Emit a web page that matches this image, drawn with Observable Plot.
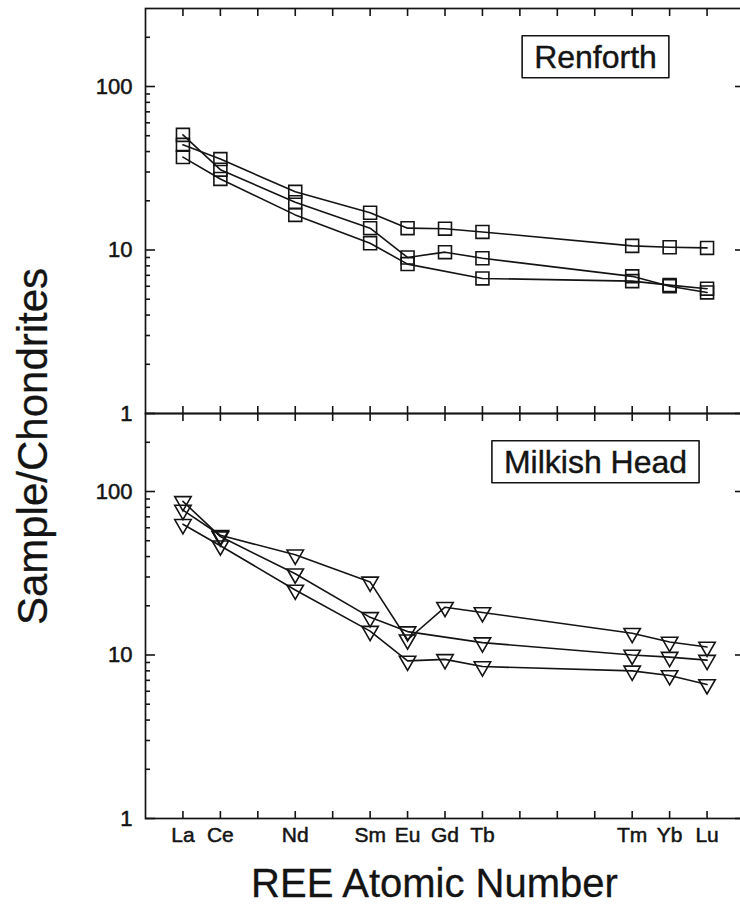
<!DOCTYPE html>
<html><head><meta charset="utf-8">
<script src="https://cdn.jsdelivr.net/npm/d3@7"></script>
<script src="https://cdn.jsdelivr.net/npm/@observablehq/plot@0.6"></script>
<style>
html,body{margin:0;padding:0;background:#fff;overflow:hidden;}
#chart{width:740px;height:911px;overflow:hidden;}
</style></head><body><div id="chart"></div>
<script>
// REE elements and atomic numbers
const elements = ["La","Ce","Nd","Sm","Eu","Gd","Tb","Tm","Yb","Lu"];
const atomicNumbers = [57,58,60,62,63,64,65,69,70,71];
const xTickNumbers = [57,58,59,60,61,62,63,64,65,66,67,68,69,70,71];
const sites = ["Renforth","Milkish Head"];

// Renforth (squares)
const renforthA = [44, 36, 22.7, 16.9, 13.6, 13.5, 12.9, 10.6, 10.4, 10.3];
const renforthB = [50.6, 31, 19.6, 13.6, 9.0, 9.7, 8.9, 6.9, 6.0, 5.5];
const renforthC = [37, 27.2, 16.4, 11.0, 8.2, null, 6.7, 6.45, 6.1, 5.8];

// Milkish Head (inverted triangles)
const milkish1 = [77, 54, 41, 28, 12.4, 19.6, 18.2, 13.6, 12.0, 11.2];
const milkish2 = [87, 53, 31.4, 17.0, 13.9, null, 11.9, 10.0, 9.7, 9.3];
const milkish3 = [63, 46.6, 25, 14.0, 9.2, 9.4, 8.5, 8.0, 7.5, 6.6];

const yMajorTicks = [1, 10, 100];
const yMinorTicks = [2,3,4,5,6,7,8,9,20,30,40,50,60,70,80,90,200];

function rows(site, series, values) {
  return values.map((v, i) => ({site, series, an: atomicNumbers[i], el: elements[i], value: v}))
               .filter(d => d.value != null);
}
const renforthRows = [...rows("Renforth","A",renforthA), ...rows("Renforth","B",renforthB), ...rows("Renforth","C",renforthC)];
const milkishRows = [...rows("Milkish Head","1",milkish1), ...rows("Milkish Head","2",milkish2), ...rows("Milkish Head","3",milkish3)];
const allRows = [...renforthRows, ...milkishRows];

const squareSym = {draw(ctx, size){ const s = Math.sqrt(size)/2; ctx.moveTo(-s,-s); ctx.lineTo(s,-s); ctx.lineTo(s,s); ctx.lineTo(-s,s); ctx.closePath(); }};
const downTri = {draw(ctx, size){ const a = Math.sqrt(size/(3*Math.sqrt(3))); ctx.moveTo(0, 2*a); ctx.lineTo(-Math.sqrt(3)*a, -a); ctx.lineTo(Math.sqrt(3)*a, -a); ctx.closePath(); }};

const ink = "#141414";
const tickAxis = (Axis, anchor, ticks, size) => Axis({anchor, ticks, tickSize: size, tickFormat: () => "", label: null, facetAnchor: null, stroke: ink, strokeWidth: 1.6});

const svg = Plot.plot({
  width: 740, height: 911,
  marginTop: 8, marginBottom: 93, marginLeft: 145, marginRight: -4,
  style: {fontFamily: "'Liberation Sans', Arial, Helvetica, sans-serif", color: ink, background: "#fff"},
  x: {type: "linear", domain: [56, 72]},
  y: {type: "log", domain: [1, 300]},
  fy: {domain: sites, padding: 0, axis: null, label: null},
  marks: [
    tickAxis(Plot.axisX, "top", xTickNumbers, -7),
    tickAxis(Plot.axisX, "bottom", xTickNumbers, -7),
    tickAxis(Plot.axisY, "left", yMajorTicks, -10),
    tickAxis(Plot.axisY, "left", yMinorTicks, -5),
    tickAxis(Plot.axisY, "right", yMajorTicks, -10),
    tickAxis(Plot.axisY, "right", yMinorTicks, -5),
    Plot.axisX({anchor: "bottom", ticks: atomicNumbers, tickSize: 0, tickPadding: 9,
      tickFormat: d => elements[atomicNumbers.indexOf(d)], fontSize: 21, label: null, fill: ink,
      textStroke: ink, textStrokeWidth: 0.5}),
    Plot.axisY({anchor: "left", ticks: yMajorTicks, tickSize: 0, tickPadding: 13,
      tickFormat: d => String(d), fontSize: 22, label: null, fill: ink,
      textStroke: ink, textStrokeWidth: 0.5}),
    Plot.frame({stroke: ink, strokeWidth: 1.7}),
    Plot.line(allRows, {x: "an", y: "value", z: d => d.site + d.series, fy: "site", stroke: ink, strokeWidth: 1.6}),
    Plot.dot(renforthRows, {x: "an", y: "value", fy: "site", symbol: squareSym, r: 7.3, stroke: ink, strokeWidth: 1.6, fill: "none"}),
    Plot.dot(milkishRows, {x: "an", y: "value", fy: "site", symbol: downTri, r: 6.1, stroke: ink, strokeWidth: 1.6, fill: "none"}),
    Plot.text(sites.map(s => ({site: s})), {fy: "site", text: "site", frameAnchor: "top-left", dx: 450, dy: 49,
      textAnchor: "middle", lineAnchor: "middle", fontSize: 32, fill: ink, stroke: ink, strokeWidth: 0.4}),
    Plot.text([{site: "Milkish Head", t: "REE Atomic Number"}], {fy: "site", text: "t", frameAnchor: "bottom-left",
      dx: 289, dy: 66, textAnchor: "middle", lineAnchor: "middle", fontSize: 40, fill: ink, stroke: ink, strokeWidth: 0.3}),
    Plot.text([{site: "Milkish Head", t: "Sample/Chondrites"}], {fy: "site", text: "t", frameAnchor: "top-left",
      dx: -112, dy: 33, rotate: -90, textAnchor: "middle", lineAnchor: "middle", fontSize: 42, fill: ink, stroke: ink, strokeWidth: 0.3})
  ]
});
document.getElementById("chart").appendChild(svg);

// draw boxes around the site labels
d3.select(svg).selectAll("text").filter(function() { return sites.includes(this.textContent); }).each(function() {
  const b = this.getBBox();
  const node = this;
  d3.select(node.parentNode).insert("rect", () => node)
    .attr("transform", node.getAttribute("transform"))
    .attr("x", b.x - 12).attr("y", b.y - 3)
    .attr("width", b.width + 24).attr("height", b.height + 6)
    .attr("fill", "none").attr("stroke", ink).attr("stroke-width", 1.6);
});
</script></body></html>
